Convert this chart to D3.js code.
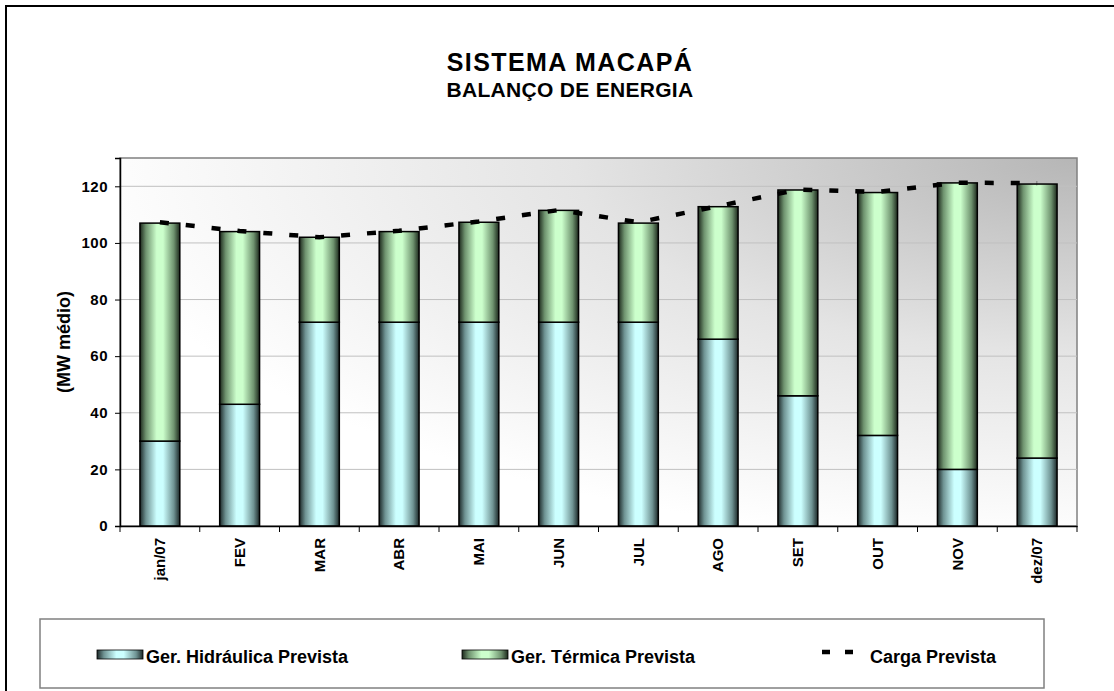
<!DOCTYPE html>
<html>
<head>
<meta charset="utf-8">
<script src="https://cdn.jsdelivr.net/npm/d3@7"></script>
<style>
  body { margin: 0; background: #fff; }
  text { font-family: Arial, "Liberation Sans", sans-serif; font-weight: bold; fill: #000; }
</style>
</head>
<body>
<div id="chart"></div>
<script>
// data
const months = ["jan/07", "FEV", "MAR", "ABR", "MAI", "JUN", "JUL", "AGO", "SET", "OUT", "NOV", "dez/07"];
const hidraulica = [30, 43, 72, 72, 72, 72, 72, 66, 46, 32, 20, 24];
const termica = [77, 61, 30, 32, 35.3, 39.5, 35, 46.8, 72.7, 85.8, 101.2, 96.8];
const carga = [107.3, 104.2, 102, 104.3, 107.6, 111.6, 107.3, 113, 118.8, 118, 121.3, 121.1];
const yTicks = [0, 20, 40, 60, 80, 100, 120];

const width = 1114;
const height = 691;
const margin = { top: 158, right: 37, bottom: 165, left: 120 };
const font = "Arial, 'Liberation Sans', sans-serif";

const svg = d3
  .select("#chart")
  .append("svg")
  .attr("width", width)
  .attr("height", height);

const defs = svg.append("defs");

// plot area background, darker toward the top right corner
const bg = defs
  .append("radialGradient")
  .attr("id", "bg")
  .attr("cx", 1)
  .attr("cy", 0)
  .attr("r", 1.05)
  .attr("fx", 1)
  .attr("fy", 0);
bg.append("stop").attr("offset", 0).attr("stop-color", "#b6b6b6");
bg.append("stop").attr("offset", 0.5).attr("stop-color", "#e4e4e4");
bg.append("stop").attr("offset", 1).attr("stop-color", "#ffffff");

// cylinder-like shading for the bars
function barGradient(id, edge, mid, light) {
  const g = defs.append("linearGradient").attr("id", id);
  g.append("stop").attr("offset", 0).attr("stop-color", edge);
  g.append("stop").attr("offset", 0.15).attr("stop-color", mid);
  g.append("stop").attr("offset", 0.42).attr("stop-color", light);
  g.append("stop").attr("offset", 0.58).attr("stop-color", light);
  g.append("stop").attr("offset", 0.85).attr("stop-color", mid);
  g.append("stop").attr("offset", 1).attr("stop-color", edge);
}
barGradient("hid", "#1c2828", "#6f9393", "#ccffff");
barGradient("ter", "#1c281c", "#6f936f", "#ccffcc");

// outer frame
svg
  .append("rect")
  .attr("x", 6)
  .attr("y", 6)
  .attr("width", 1130)
  .attr("height", 700)
  .attr("fill", "none")
  .attr("stroke", "#000")
  .attr("stroke-width", 2);

// titles
svg
  .append("text")
  .attr("x", 570)
  .attr("y", 71)
  .attr("text-anchor", "middle")
  .style("font-size", "25px")
  .style("letter-spacing", "1.4px")
  .text("SISTEMA MACAPÁ");
svg
  .append("text")
  .attr("x", 570)
  .attr("y", 97)
  .attr("text-anchor", "middle")
  .style("font-size", "21px")
  .style("letter-spacing", "0.3px")
  .text("BALANÇO DE ENERGIA");

const x = d3
  .scaleBand()
  .domain(months)
  .range([margin.left, width - margin.right])
  .paddingInner(0.5)
  .paddingOuter(0.25);

const y = d3
  .scaleLinear()
  .domain([0, 130])
  .range([height - margin.bottom, margin.top]);

const plotW = width - margin.right - margin.left;

svg
  .append("rect")
  .attr("x", margin.left)
  .attr("y", margin.top)
  .attr("width", plotW)
  .attr("height", y(0) - margin.top)
  .attr("fill", "url(#bg)")
  .attr("stroke", "#808080")
  .attr("stroke-width", 1.5);

// gridlines
svg
  .append("g")
  .selectAll("line")
  .data(yTicks.filter(d => d > 0))
  .join("line")
  .attr("x1", margin.left)
  .attr("x2", width - margin.right)
  .attr("y1", d => y(d))
  .attr("y2", d => y(d))
  .attr("stroke", "#c0c0c0")
  .attr("stroke-width", 1);

// stacked bars
const stackData = months.map((m, i) => ({ month: m, hid: hidraulica[i], ter: termica[i] }));
const series = d3.stack().keys(["hid", "ter"])(stackData);

svg
  .append("g")
  .selectAll("g")
  .data(series)
  .join("g")
  .attr("fill", d => `url(#${d.key})`)
  .selectAll("rect")
  .data(d => d)
  .join("rect")
  .attr("x", d => x(d.data.month))
  .attr("width", x.bandwidth())
  .attr("y", d => y(d[1]))
  .attr("height", d => y(d[0]) - y(d[1]))
  .attr("stroke", "#000")
  .attr("stroke-width", 1.5);

// load line
const line = d3
  .line()
  .x((d, i) => x(months[i]) + x.bandwidth() / 2)
  .y(d => y(d));

svg
  .append("path")
  .datum(carga)
  .attr("d", line)
  .attr("fill", "none")
  .attr("stroke", "#000")
  .attr("stroke-width", 4.5)
  .attr("stroke-dasharray", "9,17");

// y axis
const yAxis = svg
  .append("g")
  .attr("transform", `translate(${margin.left},0)`)
  .call(d3.axisLeft(y).tickValues(yTicks).tickSize(5).tickPadding(7));
yAxis.select(".domain").attr("stroke", "#000").attr("stroke-width", 1.5);
yAxis
  .selectAll("text")
  .style("font-size", "15px")
  .style("letter-spacing", "0.5px")
  .style("font-family", font);

// x axis with ticks at category boundaries
const step = x.step();
const xAxis = svg
  .append("g")
  .attr("transform", `translate(0,${y(0)})`)
  .call(d3.axisBottom(x).tickSize(0));
xAxis.select(".domain").attr("stroke", "#000").attr("stroke-width", 1.5);
xAxis
  .selectAll("text")
  .style("font-size", "15px")
  .style("font-family", font)
  .attr("text-anchor", "end")
  .attr("transform", "rotate(-90)")
  .attr("x", -12)
  .attr("y", 0)
  .attr("dy", "0.35em");

xAxis
  .append("g")
  .selectAll("line")
  .data(d3.range(months.length + 1))
  .join("line")
  .attr("x1", i => margin.left + i * step)
  .attr("x2", i => margin.left + i * step)
  .attr("y1", 0)
  .attr("y2", 6)
  .attr("stroke", "#000");

// y axis title
svg
  .append("text")
  .attr("transform", `translate(64,${(y(0) + margin.top) / 2}) rotate(-90)`)
  .attr("text-anchor", "middle")
  .attr("dy", "0.35em")
  .style("font-size", "18px")
  .text("(MW médio)");

// legend
const legend = svg.append("g");
legend
  .append("rect")
  .attr("x", 40)
  .attr("y", 619)
  .attr("width", 1004)
  .attr("height", 69)
  .attr("fill", "#fff")
  .attr("stroke", "#808080")
  .attr("stroke-width", 1.5);

const legendItems = [
  { label: "Ger. Hidráulica Prevista", fill: "url(#hid)", x: 97 },
  { label: "Ger. Térmica Prevista", fill: "url(#ter)", x: 462 }
];
legendItems.forEach(it => {
  legend
    .append("rect")
    .attr("x", it.x)
    .attr("y", 650)
    .attr("width", 46)
    .attr("height", 9)
    .attr("fill", it.fill)
    .attr("stroke", "#000")
    .attr("stroke-width", 0.8);
  legend
    .append("text")
    .attr("x", it.x + 49)
    .attr("y", 663)
    .style("font-size", "18px")
    .text(it.label);
});

legend
  .append("line")
  .attr("x1", 822)
  .attr("x2", 853)
  .attr("y1", 652)
  .attr("y2", 652)
  .attr("stroke", "#000")
  .attr("stroke-width", 4.5)
  .attr("stroke-dasharray", "8,15");
legend
  .append("text")
  .attr("x", 870)
  .attr("y", 663)
  .style("font-size", "18px")
  .text("Carga Prevista");
</script>
</body>
</html>
